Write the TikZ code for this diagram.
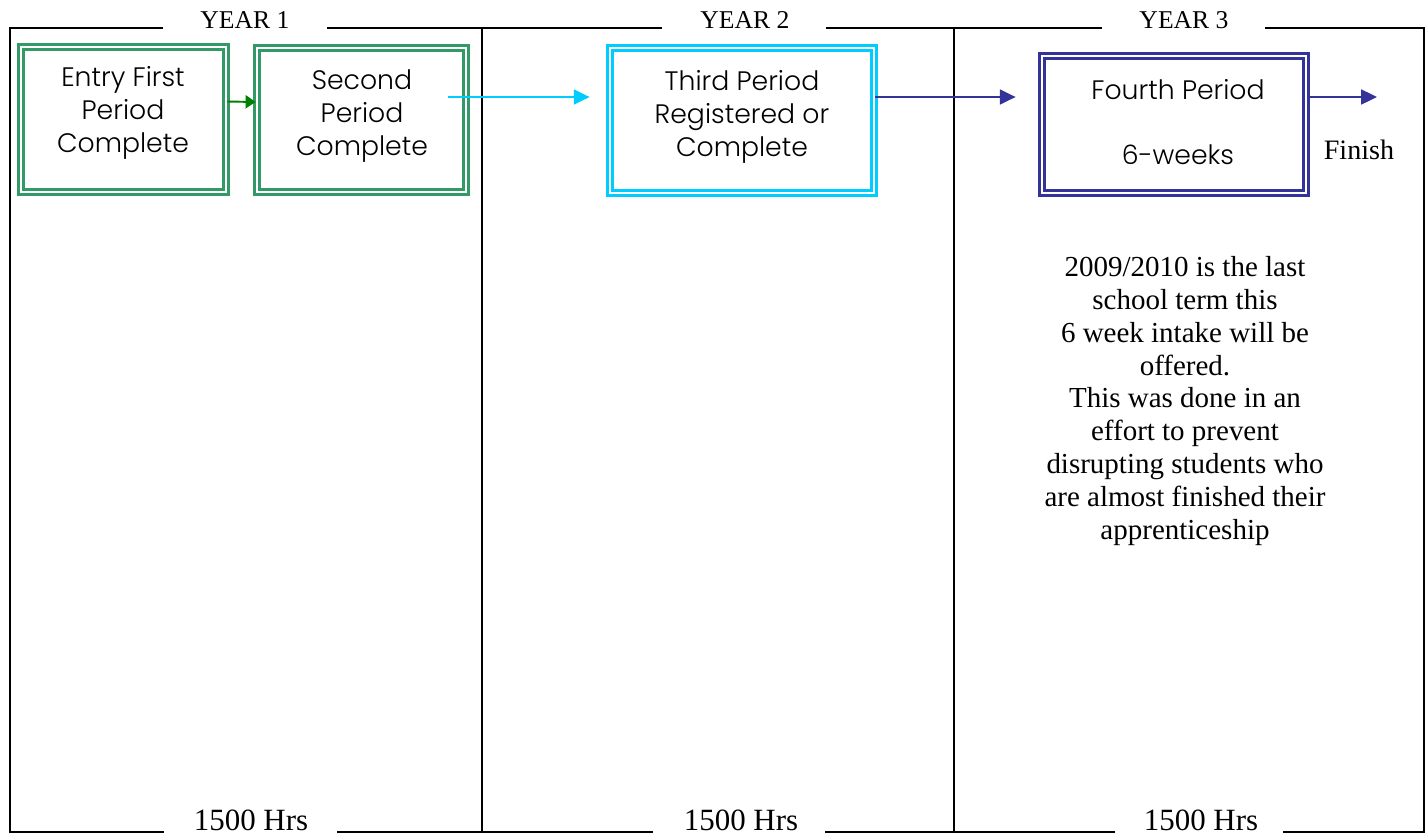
\documentclass[tikz,border=0pt]{standalone}
\usepackage{fontspec}
\setmainfont{Liberation Serif}
\newfontfamily\gothicfont{Poppins}[UprightFont=* Light]
\usetikzlibrary{positioning,calc,arrows.meta}
\definecolor{periodgreen}{RGB}{51,153,102}
\definecolor{arrowgreen}{RGB}{0,128,0}
\definecolor{periodcyan}{RGB}{0,204,255}
\definecolor{periodblue}{RGB}{51,51,153}
\tikzset{
    periodBox/.style={draw=#1, line width=1.6pt, double, double distance=1.2pt, rectangle, inner sep=0pt},
    periodText/.style={font=\gothicfont\fontsize{15.2}{18.7}\selectfont, align=center},
    flow/.style={draw=#1, line width=1.1pt, -{Triangle[length=9pt,width=8.5pt]}},
    yearText/.style={font=\fontsize{14.6}{17}\selectfont, anchor=base},
    hoursText/.style={font=\fontsize{17.6}{20}\selectfont, anchor=base}
}
\begin{document}
\begin{tikzpicture}[x=0.02cm,y=-0.02cm]
			\useasboundingbox (0,0) rectangle (1427,836);
			% frame and year columns
			\draw[line width=1pt] (163,28) -- (10,28) -- (10,832) -- (164,832);
			\draw[line width=1pt] (327,28) -- (662,28);
			\draw[line width=1pt] (826,28) -- (1102,28);
			\draw[line width=1pt] (1265,28) -- (1424,28) -- (1424,832) -- (1283,832);
			\draw[line width=1pt] (337,832) -- (653,832);
			\draw[line width=1pt] (825,832) -- (1115,832);
			\draw[line width=1pt] (482,28) -- (482,832);
			\draw[line width=1pt] (954,28) -- (954,832);
			\node[yearText] (year1) at (245,28) {YEAR 1};
			\node[yearText] (year2) at (745,28) {YEAR 2};
			\node[yearText] (year3) at (1184,28) {YEAR 3};
			\node[hoursText] (hours1) at (251,830) {1500 Hrs};
			\node[hoursText] (hours2) at (741,830) {1500 Hrs};
			\node[hoursText] (hours3) at (1201,830) {1500 Hrs};
			% periods
			\node[periodBox=periodgreen, minimum width=4.1cm, minimum height=2.9cm] (first) at (123.5,119.5) {};
			\node[periodBox=periodgreen, minimum width=4.18cm, minimum height=2.88cm] (second) at (361.5,120) {};
			\node[periodBox=periodcyan, minimum width=5.28cm, minimum height=2.9cm] (third) at (742,120.5) {};
			\node[periodBox=periodblue, minimum width=5.28cm, minimum height=2.74cm] (fourth) at (1174,124.5) {};
			\node[periodText] (firstText) at (123,113) {Entry First\\Period\\Complete};
			\node[periodText] (secondText) at (362,116) {Second\\Period\\Complete};
			\node[periodText] (thirdText) at (742,117) {Third Period\\Registered or\\Complete};
			\node[periodText] (fourthText) at (1178,122) {Fourth Period\\[18.7pt]6-weeks};
			\node[font=\fontsize{16}{18}\selectfont, anchor=base] (finish) at (1359,159) {Finish};
			\coordinate (finishEnd) at (1377,97);
			% arrows
			\draw[flow=arrowgreen, -{Triangle[length=5.7pt,width=7.4pt]}] ($(first.east)+(0,-18)$) -- ($(second.west)+(0,-18)$);
			\draw[flow=periodcyan] ($(second.east)+(-19,-23)$) -- ($(third.west)+(-19,-23.5)$);
			\draw[flow=periodblue] ($(third.east)+(0,-23.5)$) -- ($(fourth.west)+(-25,-27.5)$);
			\draw[flow=periodblue] ($(fourth.east)+(0,-27.5)$) -- (finishEnd);
			\node[font=\fontsize{16.5}{18.7}\selectfont, align=center] (note) at (1185,401) {2009/2010 is the last\\school term this\\ 6 week intake will be\\offered.\\This was done in an\\effort to prevent\\disrupting students who\\are almost finished their\\apprenticeship};
\end{tikzpicture}
\end{document}
